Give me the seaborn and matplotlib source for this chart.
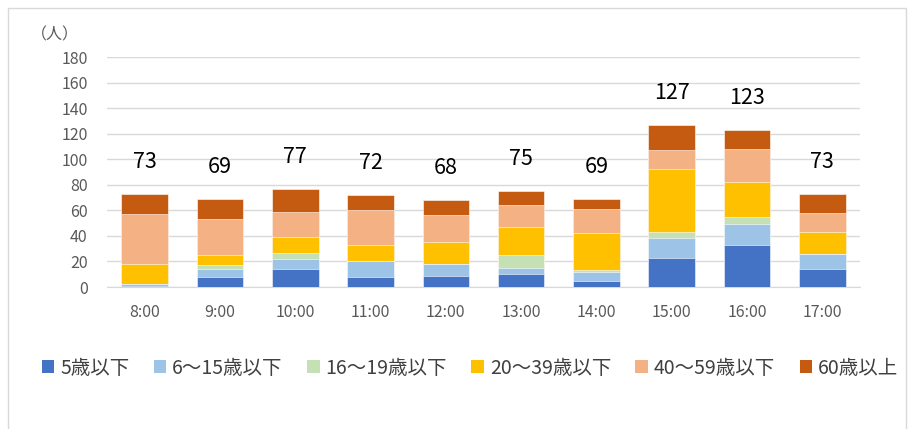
import pandas as pd
import numpy as np
import matplotlib
matplotlib.use("Agg")
import matplotlib.pyplot as plt
from matplotlib.patches import Patch, Rectangle
import seaborn as sns

# Data
hours = ['8:00', '9:00', '10:00', '11:00', '12:00', '13:00', '14:00', '15:00', '16:00', '17:00']
age_5 = [1, 8, 14, 8, 9, 10, 5, 23, 33, 14]
age_6_15 = [1, 6, 8, 12, 9, 5, 7, 15, 16, 12]
age_16_19 = [0, 3, 5, 0, 0, 10, 1, 5, 6, 0]
age_20_39 = [16, 8, 12, 13, 17, 22, 29, 49, 27, 17]
age_40_59 = [39, 28, 20, 27, 21, 17, 19, 15, 26, 15]
age_60 = [16, 16, 18, 12, 12, 11, 8, 20, 15, 15]

groups = ['5歳以下', '6～15歳以下', '16～19歳以下', '20～39歳以下', '40～59歳以下', '60歳以上']
colors = ['#4472C4', '#9DC3E6', '#C5E0B4', '#FFC000', '#F4B183', '#C55A11']

df = pd.DataFrame({'hour': hours})
for g, vals in zip(groups, [age_5, age_6_15, age_16_19, age_20_39, age_40_59, age_60]):
    df[g] = vals
cum = df[groups].cumsum(axis=1)
df['total'] = cum[groups[-1]]

sns.set_style('white')
plt.rcParams['font.family'] = ['Noto Sans CJK JP', 'DejaVu Sans']

fig = plt.figure(figsize=(9.11, 4.29), dpi=100)
ax = fig.add_axes([107 / 911, 1 - 287 / 429, 753 / 911, 230 / 429])

# stacked bars: draw cumulative sums, tallest first
for g, c in reversed(list(zip(groups, colors))):
    sns.barplot(x=df['hour'], y=cum[g], color=c, width=0.62, ax=ax,
                saturation=1, edgecolor='white', linewidth=0.4, zorder=3)

for i, t in enumerate(df['total']):
    ax.annotate(str(t), (i, t), xytext=(0, 23), textcoords='offset points',
                ha='center', va='center', fontsize=15.5, color='#000000')

ax.set_ylim(0, 180)
ax.set_xlim(-0.5, len(hours) - 0.5)
ax.set_yticks(range(0, 181, 20))
ax.yaxis.grid(True, color='#D9D9D9', linewidth=1, zorder=0)
ax.set_axisbelow(True)
for s in ['top', 'right', 'left']:
    ax.spines[s].set_visible(False)
ax.spines['bottom'].set_color('#D9D9D9')
ax.tick_params(axis='y', length=0, pad=14, labelsize=11.5, labelcolor='#595959')
ax.tick_params(axis='x', length=0, pad=12, labelsize=11.5, labelcolor='#595959')
ax.set_xlabel('')
ax.set_ylabel('')

fig.text(55 / 911, 1 - 35 / 429, '（人）', ha='center', va='center', fontsize=11.5, color='#595959')

handles = [Patch(facecolor=c, edgecolor='none') for c in colors]
fig.legend(handles, groups, loc='center', bbox_to_anchor=(470 / 911, 1 - 368 / 429), ncol=6,
           frameon=False, fontsize=14, handlelength=0.65, handleheight=0.65,
           handletextpad=0.3, columnspacing=1.25, labelcolor='#404040')

# outer chart border
fig.patches.append(Rectangle((8 / 911, -0.05), 0.995 - 8 / 911, 1.05 - 8 / 429,
                             transform=fig.transFigure, fill=False, edgecolor='#D9D9D9', linewidth=1))

fig.savefig('out.png', dpi=100, facecolor='white')
